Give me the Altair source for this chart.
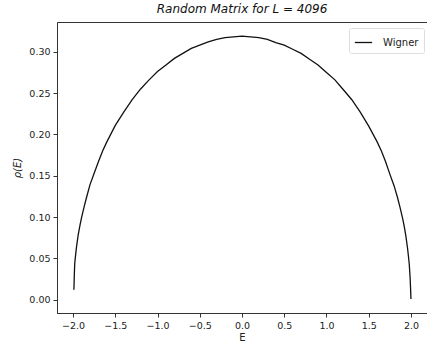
import altair as alt
import pandas as pd

E_vals = [-1.99, -1.985, -1.98, -1.97, -1.96, -1.94, -1.92, -1.90, -1.87, -1.84,
          -1.80, -1.75, -1.70, -1.65, -1.60, -1.50, -1.40, -1.30, -1.20, -1.10,
          -1.00, -0.90, -0.80, -0.70, -0.60, -0.50, -0.40, -0.30, -0.20, -0.10,
          0.00, 0.10, 0.20, 0.30, 0.40, 0.50, 0.60, 0.70, 0.80, 0.90,
          1.00, 1.10, 1.20, 1.30, 1.40, 1.50, 1.60, 1.65, 1.70, 1.75,
          1.80, 1.84, 1.87, 1.90, 1.92, 1.94, 1.96, 1.97, 1.98, 1.99, 1.995, 2.00]
rho_vals = [0.012, 0.030, 0.044, 0.054, 0.063, 0.078, 0.089, 0.099, 0.112, 0.124,
            0.139, 0.153, 0.167, 0.180, 0.191, 0.211, 0.227, 0.242, 0.255, 0.266,
            0.276, 0.284, 0.292, 0.298, 0.304, 0.308, 0.312, 0.315, 0.317, 0.318,
            0.319, 0.318, 0.317, 0.315, 0.311, 0.308, 0.303, 0.298, 0.291, 0.284,
            0.275, 0.266, 0.254, 0.242, 0.227, 0.210, 0.191, 0.180, 0.167, 0.152,
            0.138, 0.124, 0.112, 0.099, 0.089, 0.077, 0.062, 0.053, 0.043, 0.027, 0.015, 0.001]
series = ["Wigner"] * len(E_vals)

x_ticks = [-2.0, -1.5, -1.0, -0.5, 0.0, 0.5, 1.0, 1.5, 2.0]
y_ticks = [0.00, 0.05, 0.10, 0.15, 0.20, 0.25, 0.30]

df = pd.DataFrame({"E": E_vals, "rho": rho_vals, "s": series})

FONT = "DejaVu Sans"

chart = alt.Chart(df).mark_line(strokeWidth=1.3, clip=True).encode(
    x=alt.X("E:Q", scale=alt.Scale(domain=[-2.19, 2.19], nice=False, zero=False),
            axis=alt.Axis(values=x_ticks, format=".1f", title="E", grid=False)),
    y=alt.Y("rho:Q", scale=alt.Scale(domain=[-0.016, 0.336], nice=False, zero=False),
            axis=alt.Axis(values=y_ticks, format=".2f", title="ρ(E)", grid=False,
                          titleFontStyle="italic")),
    color=alt.Color("s:N", scale=alt.Scale(domain=["Wigner"], range=["#111111"]),
                    legend=alt.Legend(title=None, orient="none", legendX=292, legendY=6,
                                      symbolType="stroke", symbolSize=300,
                                      symbolStrokeWidth=1.3, labelFontSize=10,
                                      labelFont=FONT, labelColor="#222",
                                      strokeColor="#dddddd", fillColor="white",
                                      padding=5, cornerRadius=2, labelOffset=10)),
).properties(
    width=370, height=291,
    title=alt.TitleParams("Random Matrix for L = 4096", fontSize=12, font=FONT,
                          fontStyle="italic", fontWeight="normal", color="#111",
                          anchor="middle", offset=6),
    padding={"left": 57, "top": 22, "right": 0, "bottom": 34},
    autosize=alt.AutoSizeParams(type="none"),
).configure_view(
    stroke="#333333", strokeWidth=1
).configure_axis(
    labelFont=FONT, titleFont=FONT, labelFontSize=9.5, titleFontSize=10,
    labelColor="#222", titleColor="#222", tickColor="#333", domainColor="#333",
    tickSize=4, labelPadding=3, titleFontWeight="normal",
).configure_axisX(titlePadding=3).configure_axisY(titlePadding=6)

chart.save("out.html", embed_options={"renderer": "svg", "actions": False})
